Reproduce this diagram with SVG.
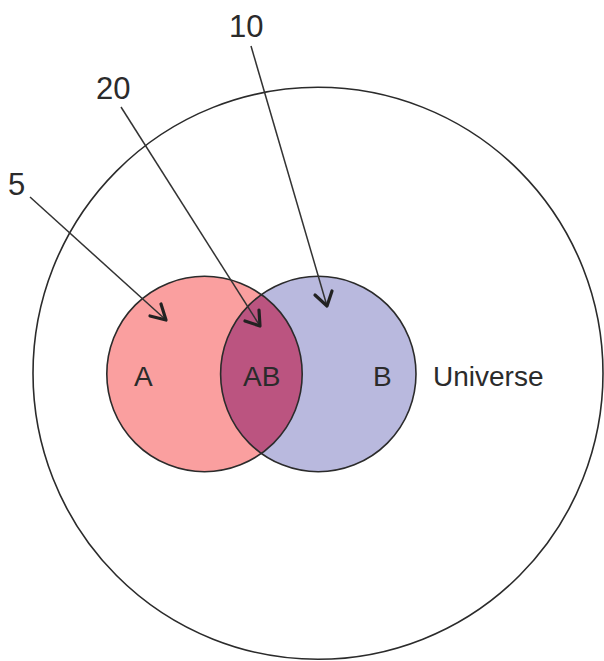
<svg xmlns="http://www.w3.org/2000/svg" width="604" height="661" viewBox="0 0 604 661">
<style>
.lbl{font-family:"Liberation Sans",Arial,sans-serif;font-size:28px;fill:#2b2b2b}
.num{font-family:"Liberation Sans",Arial,sans-serif;font-size:31px;fill:#2b2b2b}
.edge{stroke:#333;stroke-width:1.5;fill:none}
.head{stroke:#222;stroke-width:3.2;fill:none;stroke-linecap:round;stroke-linejoin:round}
.ring{stroke:#2b2b2b;stroke-width:1.6}
</style>
<rect width="604" height="661" fill="#fff"/>
<g id="universe">
<ellipse cx="318" cy="373.3" rx="285" ry="286" fill="#fff" class="ring"/>
<text class="lbl" x="433" y="386">Universe</text>
</g>
<g id="setA">
<circle cx="204.5" cy="374" r="97.7" fill="#fa9f9f"/>
</g>
<g id="setB">
<circle cx="318.3" cy="374" r="97.7" fill="#b9b9de"/>
</g>
<g id="setAB">
<path d="M261.4,294.6 A97.7,97.7 0 0 1 261.4,453.4 A97.7,97.7 0 0 1 261.4,294.6 Z" fill="#bb5480"/>
</g>
<g id="outlines" fill="none" class="ring">
<circle cx="204.5" cy="374" r="97.7"/>
<circle cx="318.3" cy="374" r="97.7"/>
</g>
<g id="labels">
<text class="lbl" x="134" y="386">A</text>
<text class="lbl" x="243" y="386">AB</text>
<text class="lbl" x="373" y="386">B</text>
</g>
<g id="connectors">
<line class="edge" x1="30" y1="197" x2="166" y2="320"/>
<polyline class="head" points="150,316 166,320 161,304"/>
<line class="edge" x1="121" y1="107" x2="260" y2="326"/>
<polyline class="head" points="245,321 260,326 259,310"/>
<line class="edge" x1="251" y1="46" x2="327" y2="306"/>
<polyline class="head" points="315,295 327,306 332,291"/>
</g>
<g id="numbers">
<text class="num" x="8" y="195">5</text>
<text class="num" x="96" y="99">20</text>
<text class="num" x="229" y="37">10</text>
</g>
</svg>
